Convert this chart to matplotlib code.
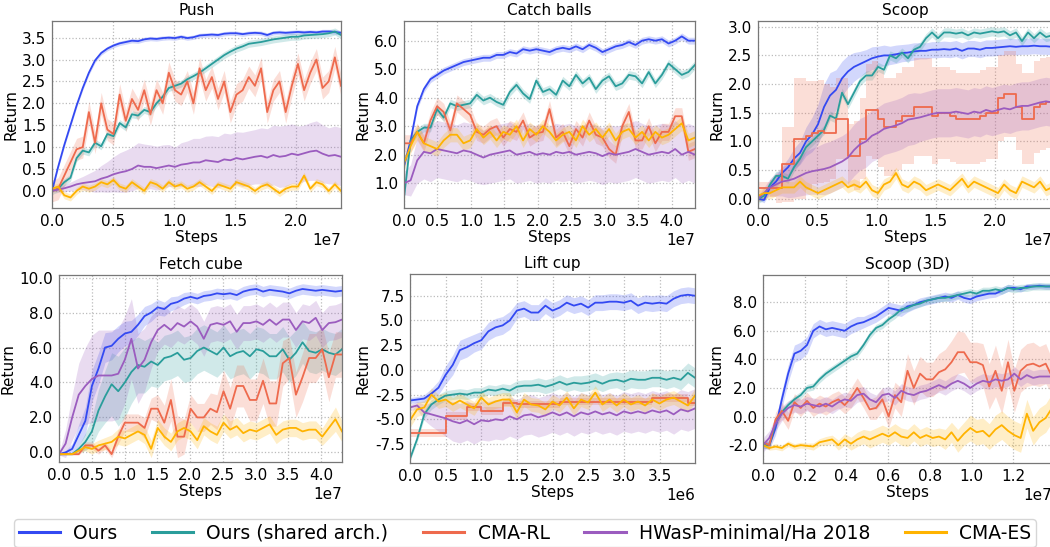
import numpy as np
import matplotlib
matplotlib.use("Agg")
import matplotlib.pyplot as plt
from matplotlib.ticker import MultipleLocator, FormatStrFormatter
from matplotlib.lines import Line2D

# ---------------- labels ----------------
method_names = ["Ours", "Ours (shared arch.)", "CMA-RL", "HWasP-minimal/Ha 2018", "CMA-ES"]
panel_titles = ["Push", "Catch balls", "Scoop", "Fetch cube", "Lift cup", "Scoop (3D)"]
x_label = "Steps"
y_label = "Return"

# ---------------- Push (steps up to 2.37e7) ----------------
push_xmax = 2.37e7
push_ours = [0.00,0.55,1.05,1.50,1.95,2.35,2.70,2.98,3.15,3.25,
             3.32,3.37,3.40,3.43,3.42,3.46,3.48,3.47,3.49,3.50,
             3.49,3.52,3.49,3.51,3.55,3.56,3.57,3.56,3.59,3.60,
             3.60,3.58,3.60,3.61,3.60,3.56,3.61,3.62,3.61,3.62,
             3.63,3.62,3.63,3.62,3.64,3.64,3.63,3.61]
push_ours_sd = 0.05
push_shared = [0.00,0.05,0.20,0.30,0.75,0.92,0.88,1.10,1.02,1.30,
               1.25,1.55,1.45,1.75,1.72,1.85,1.80,2.00,2.15,2.35,
               2.40,2.45,2.55,2.62,2.70,2.80,2.90,3.00,3.10,3.18,
               3.25,3.30,3.36,3.38,3.40,3.43,3.46,3.48,3.50,3.52,
               3.52,3.55,3.56,3.57,3.58,3.60,3.64,3.56]
push_shared_sd = 0.08
push_cmarl = [0.00,0.05,0.35,0.65,0.95,1.00,1.80,1.10,2.00,1.40,
              1.30,2.20,1.60,2.10,1.85,2.30,1.75,2.30,2.00,2.70,
              2.30,2.20,2.50,2.00,2.80,2.30,2.60,2.10,2.50,1.80,
              2.20,2.30,2.60,2.40,2.80,1.80,2.30,2.50,1.80,2.40,
              2.90,2.30,2.70,3.00,2.35,2.50,3.05,2.40]
push_cmarl_sd = 0.25
push_hwasp = [0.00,0.03,0.06,0.10,0.15,0.18,0.20,0.22,0.28,0.32,
              0.38,0.42,0.45,0.50,0.58,0.55,0.55,0.52,0.55,0.58,
              0.55,0.60,0.62,0.65,0.65,0.70,0.68,0.66,0.72,0.70,
              0.75,0.72,0.75,0.78,0.80,0.76,0.82,0.78,0.80,0.85,
              0.82,0.86,0.90,0.92,0.85,0.80,0.82,0.78]
push_hwasp_sd = [0.02,0.05,0.08,0.10,0.12,0.15,0.20,0.25,0.30,0.35,
                 0.40,0.45,0.48,0.50,0.52,0.52,0.50,0.50,0.50,0.48,
                 0.45,0.50,0.52,0.55,0.55,0.55,0.58,0.58,0.60,0.60,
                 0.60,0.62,0.62,0.62,0.64,0.66,0.68,0.70,0.70,0.68,
                 0.66,0.64,0.66,0.68,0.66,0.64,0.66,0.66]
push_cmaes = [0.05,0.10,-0.10,-0.15,0.00,0.10,0.05,0.10,0.20,0.15,
              0.25,0.10,0.05,0.20,0.10,0.00,0.20,0.15,0.05,0.20,
              0.10,0.15,0.05,0.10,0.20,0.10,0.00,0.15,0.10,0.05,
              0.20,0.15,0.10,0.00,0.10,0.15,0.05,-0.05,0.05,0.10,
              0.10,0.35,0.05,0.20,0.15,0.00,0.15,0.00]
push_cmaes_sd = 0.08

# ---------------- Catch balls (steps up to 4.35e7) ----------------
catch_xmax = 4.35e7
catch_ours = [1.60,2.50,3.70,4.30,4.65,4.80,4.95,5.05,5.15,5.25,
              5.30,5.35,5.40,5.40,5.50,5.50,5.60,5.55,5.70,5.65,
              5.70,5.65,5.60,5.70,5.75,5.70,5.80,5.70,5.85,5.75,
              5.60,5.70,5.80,5.85,5.95,5.85,6.00,6.05,6.00,6.05,
              5.90,6.00,6.15,6.00,6.00]
catch_ours_sd = 0.12
catch_shared = [0.50,2.50,2.80,2.95,2.95,3.60,3.30,3.80,3.70,3.75,
                3.80,4.10,3.90,4.00,3.85,3.75,4.20,4.45,4.15,3.95,
                4.60,4.20,4.30,4.10,4.60,4.40,4.80,4.50,4.70,4.30,
                4.60,4.75,4.40,4.50,4.80,4.75,4.50,4.90,4.50,4.80,
                5.20,5.00,4.80,4.90,5.15]
catch_shared_sd = 0.15
catch_cmarl = [2.40,2.40,2.80,2.40,3.20,3.70,3.50,2.85,3.80,3.60,
               3.40,2.80,2.70,2.90,3.00,2.60,2.90,2.80,3.20,2.60,
               2.75,2.80,3.60,2.60,2.80,2.30,2.90,2.60,3.20,2.70,
               2.60,2.20,2.00,3.00,3.50,2.50,2.50,3.00,2.40,2.80,
               2.80,3.35,3.35,2.10,2.20]
catch_cmarl_sd = 0.3
catch_hwasp = [1.00,1.10,1.80,2.10,2.05,2.20,2.15,2.10,2.05,2.15,
               2.10,2.00,1.90,2.00,2.05,2.10,2.15,2.00,2.05,2.10,
               2.00,2.05,2.00,2.10,2.05,2.10,2.00,2.05,2.10,2.05,
               1.95,2.05,2.00,2.05,2.10,2.20,2.10,2.00,2.05,2.10,
               2.05,2.20,2.00,2.10,2.00]
catch_hwasp_sd = [0.40,0.55,0.80,0.95,1.00,1.00,1.00,1.00,1.00,1.00,
                  1.00,1.00,0.95,1.00,1.00,1.00,1.00,1.00,1.00,1.00,
                  1.00,1.00,1.00,1.00,1.00,1.00,1.00,1.00,1.00,1.00,
                  1.00,1.00,1.00,1.00,1.00,1.00,1.00,1.00,1.00,1.00,
                  1.00,1.00,1.00,1.00,1.00]
catch_cmaes = [1.70,2.30,2.80,2.40,2.30,2.20,2.50,2.70,2.70,2.40,
               2.50,2.90,2.60,2.80,2.50,2.80,2.70,3.00,2.50,2.90,
               2.70,3.00,2.80,2.50,2.70,2.80,2.50,3.00,2.70,2.90,
               2.60,2.90,2.50,2.80,2.90,2.60,2.80,2.50,2.80,2.60,
               2.70,2.90,3.10,2.50,2.60]
catch_cmaes_sd = 0.25

# ---------------- Scoop (steps up to 2.48e7) ----------------
scoop_xmax = 2.48e7
scoop_ours = [0.00,-0.02,0.20,0.30,0.45,0.55,0.70,0.80,1.00,1.12,
              1.30,1.60,1.80,1.90,2.10,2.22,2.30,2.35,2.40,2.45,
              2.48,2.50,2.50,2.52,2.54,2.55,2.57,2.58,2.58,2.60,
              2.60,2.61,2.60,2.62,2.58,2.62,2.62,2.60,2.63,2.63,
              2.64,2.65,2.66,2.65,2.66,2.66,2.67,2.66,2.66,2.65]
scoop_ours_sd = [0.02,0.05,0.08,0.10,0.12,0.15,0.18,0.20,0.25,0.30,
                 0.35,0.40,0.40,0.35,0.30,0.28,0.25,0.22,0.20,0.20,
                 0.18,0.18,0.16,0.16,0.15,0.15,0.15,0.14,0.14,0.14,
                 0.14,0.14,0.14,0.14,0.14,0.14,0.14,0.14,0.14,0.14,
                 0.14,0.14,0.14,0.14,0.14,0.14,0.14,0.14,0.14,0.14]
scoop_shared = [0.00,0.05,0.25,0.40,0.40,0.35,0.55,0.70,0.90,1.00,
                1.10,1.20,1.45,1.40,1.85,1.65,1.85,2.05,2.15,2.15,
                2.30,2.25,2.50,2.45,2.55,2.45,2.60,2.65,2.80,2.90,
                2.80,2.90,2.90,2.88,2.90,2.85,2.90,2.88,2.90,2.92,
                2.90,2.92,2.85,2.90,2.75,2.90,2.80,2.90,2.82,2.85]
scoop_shared_sd = 0.08
scoop_cmarl = [0.18,0.18,0.18,0.18,0.60,0.60,1.05,1.05,1.10,1.15,
               1.18,1.15,1.15,1.40,1.40,0.75,0.75,1.05,1.55,1.55,
               1.40,1.25,1.25,1.35,1.45,1.45,1.60,1.60,1.60,1.45,
               1.50,1.50,1.45,1.40,1.40,1.40,1.40,1.45,1.50,1.50,
               1.75,1.82,1.82,1.60,1.40,1.40,1.60,1.65,1.68,1.68]
scoop_cmarl_sd = [0.12,0.12,0.15,0.25,0.65,0.65,1.05,1.05,0.95,0.90,
                  0.90,0.85,0.80,0.70,0.70,0.55,0.60,0.70,0.80,0.85,
                  0.85,0.85,0.85,0.85,0.85,0.85,0.85,0.85,0.85,0.85,
                  0.80,0.80,0.80,0.80,0.80,0.80,0.80,0.80,0.80,0.80,
                  0.75,0.75,0.75,0.75,0.80,0.80,0.80,0.80,0.80,0.80]
scoop_hwasp = [0.00,0.10,0.20,0.25,0.30,0.32,0.35,0.40,0.45,0.48,
               0.50,0.52,0.55,0.60,0.65,0.72,0.85,0.95,1.00,1.10,
               1.15,1.22,1.25,1.28,1.32,1.38,1.40,1.42,1.45,1.48,
               1.50,1.50,1.50,1.52,1.50,1.48,1.52,1.50,1.55,1.52,
               1.55,1.58,1.56,1.60,1.62,1.62,1.65,1.68,1.70,1.68]
scoop_hwasp_sd = [0.05,0.10,0.15,0.20,0.25,0.30,0.32,0.35,0.38,0.40,
                  0.42,0.45,0.45,0.45,0.45,0.45,0.45,0.45,0.45,0.45,
                  0.45,0.45,0.45,0.45,0.45,0.45,0.45,0.42,0.42,0.42,
                  0.42,0.42,0.42,0.42,0.42,0.42,0.42,0.42,0.42,0.42,
                  0.42,0.42,0.42,0.42,0.42,0.42,0.42,0.42,0.42,0.42]
scoop_cmaes = [0.05,0.10,0.10,0.15,0.20,0.20,0.20,0.30,0.20,0.15,
               0.10,0.15,0.20,0.25,0.30,0.20,0.25,0.20,0.30,0.15,
               0.10,0.25,0.30,0.45,0.25,0.20,0.30,0.25,0.15,0.20,
               0.25,0.20,0.15,0.25,0.35,0.20,0.30,0.25,0.20,0.15,
               0.10,0.25,0.15,0.10,0.30,0.25,0.20,0.30,0.15,0.20]
scoop_cmaes_sd = 0.1

# ---------------- Fetch cube (steps up to 4.32e7) ----------------
fetch_xmax = 4.32e7
fetch_ours = [-0.10,0.00,0.20,1.00,1.80,3.80,4.80,6.00,6.10,6.50,
              6.80,6.90,7.30,7.80,8.00,8.30,8.20,8.50,8.60,8.80,
              8.90,8.80,8.95,9.00,9.10,9.05,9.10,9.00,9.20,9.30,
              9.35,9.20,9.30,9.25,9.20,9.10,9.25,9.35,9.30,9.25,
              9.30,9.25,9.20,9.25]
fetch_ours_sd = [0.05,0.10,0.30,0.60,0.80,0.90,0.90,0.85,0.80,0.75,
                 0.70,0.65,0.60,0.55,0.50,0.45,0.40,0.40,0.35,0.35,
                 0.30,0.30,0.30,0.30,0.30,0.30,0.30,0.30,0.30,0.30,
                 0.30,0.30,0.30,0.30,0.30,0.30,0.30,0.30,0.30,0.30,
                 0.30,0.30,0.30,0.30]
fetch_shared = [-0.10,-0.10,-0.10,0.20,0.60,1.20,2.40,3.20,3.90,3.50,
                4.00,4.60,5.00,4.90,5.20,5.00,5.40,5.50,5.70,5.30,
                5.40,5.80,6.00,5.80,5.60,6.00,5.50,5.70,5.80,5.50,
                5.90,5.80,5.50,5.50,5.90,5.30,5.70,6.30,5.80,5.70,
                5.90,5.70,5.60,5.90]
fetch_shared_sd = [0.05,0.05,0.05,0.20,0.50,0.80,1.20,1.50,1.80,2.00,
                   2.00,1.80,1.60,1.50,1.40,1.30,1.30,1.30,1.30,1.30,
                   1.30,1.30,1.30,1.30,1.30,1.30,1.30,1.30,1.30,1.30,
                   1.30,1.30,1.30,1.30,1.30,1.30,1.30,1.20,1.20,1.20,
                   1.20,1.20,1.20,1.20]
fetch_cmarl = [-0.10,-0.10,-0.10,-0.10,0.40,0.40,0.10,0.40,-0.10,0.90,
               1.70,1.70,1.70,1.40,2.50,2.50,1.70,3.00,0.90,0.90,
               2.50,2.00,2.00,2.50,2.30,3.50,2.50,3.80,3.80,3.00,
               3.00,4.10,2.80,2.80,5.10,5.40,3.30,4.30,5.40,5.40,
               5.90,4.30,5.60,5.60]
fetch_cmarl_sd = [0.05,0.05,0.05,0.05,0.20,0.20,0.20,0.20,0.20,0.40,
                  0.50,0.50,0.50,0.60,0.60,0.80,1.00,1.20,1.20,1.00,
                  0.80,0.80,0.80,0.90,1.00,1.20,1.20,1.20,1.20,1.20,
                  1.20,1.30,1.30,1.30,1.30,1.20,1.30,1.40,1.40,1.40,
                  1.30,1.40,1.30,1.30]
fetch_hwasp = [-0.10,0.50,2.00,3.30,3.80,4.20,4.40,4.40,4.40,4.50,
               5.30,6.50,4.80,5.30,6.30,7.00,7.30,7.00,7.40,7.20,
               7.50,7.20,6.50,7.30,7.40,7.30,7.50,6.90,7.40,7.40,
               7.50,7.30,7.60,7.30,7.60,7.60,7.00,7.50,7.40,7.70,
               7.00,7.40,7.45,7.60]
fetch_hwasp_sd = [0.05,0.80,1.30,1.80,2.20,2.50,2.60,2.60,2.60,2.60,
                  2.50,2.30,2.00,1.80,1.50,1.20,1.10,1.00,1.00,1.00,
                  1.00,1.00,1.00,1.00,1.00,1.00,1.00,1.00,1.00,1.00,
                  1.00,1.00,1.00,1.00,1.00,1.00,1.00,1.00,1.00,1.00,
                  1.00,1.00,1.00,1.00]
fetch_cmaes = [-0.10,-0.10,-0.10,0.10,0.30,0.20,0.40,0.50,0.60,0.90,
               0.80,1.00,1.20,1.00,0.20,1.40,0.90,0.60,1.20,1.40,
               1.20,0.70,1.50,1.20,1.00,1.70,1.30,1.50,1.10,1.30,
               1.20,1.40,1.60,1.00,1.30,1.40,1.40,1.20,1.30,1.30,
               0.90,1.40,1.90,1.20]
fetch_cmaes_sd = [0.03,0.03,0.03,0.10,0.20,0.30,0.30,0.35,0.40,0.45,
                  0.45,0.45,0.45,0.50,0.50,0.50,0.50,0.50,0.50,0.50,
                  0.50,0.50,0.50,0.50,0.50,0.50,0.50,0.50,0.50,0.50,
                  0.50,0.50,0.50,0.50,0.50,0.50,0.50,0.50,0.50,0.50,
                  0.50,0.60,0.70,0.60]

# ---------------- Lift cup (steps up to 3.99e6) ----------------
lift_xmax = 3.99e6
lift_ours = [-3.10,-3.00,-2.90,-2.40,-1.80,-0.50,0.50,2.00,2.30,2.70,
             3.00,3.90,4.30,4.50,5.00,6.00,6.20,5.80,5.80,6.50,
             6.00,6.30,6.80,6.50,6.70,6.30,6.80,6.80,6.90,6.90,
             6.80,7.00,6.50,6.80,6.70,6.80,6.70,7.20,7.50,7.60,
             7.50]
lift_ours_sd = [0.30,0.30,0.40,0.50,0.70,0.90,1.00,1.00,1.00,0.90,
                0.90,0.90,0.90,0.90,0.90,0.80,0.80,0.80,0.80,0.80,
                0.80,0.80,0.80,0.80,0.80,0.80,0.80,0.80,0.80,0.80,
                0.80,0.80,0.80,0.80,0.80,0.80,0.80,0.80,0.80,0.80,
                0.80]
lift_shared = [-9.00,-7.00,-4.50,-3.50,-3.00,-2.60,-2.50,-2.40,-2.50,-2.30,
               -2.30,-2.00,-2.10,-1.90,-2.10,-1.70,-1.60,-1.60,-1.50,-1.70,
               -1.50,-1.20,-1.50,-1.30,-1.40,-1.30,-1.10,-1.40,-1.10,-1.00,
               -1.20,-0.90,-1.00,-1.00,-0.80,-0.80,-1.00,-0.80,-1.00,-0.30,
               -0.80]
lift_shared_sd = [0.20,0.30,0.40,0.50,0.50,0.50,0.50,0.50,0.50,0.50,
                  0.50,0.50,0.50,0.50,0.60,0.60,0.60,0.60,0.70,0.70,
                  0.70,0.70,0.70,0.70,0.80,0.80,0.80,0.80,0.80,0.80,
                  0.90,0.90,0.90,0.90,0.90,0.90,0.90,0.90,1.00,1.00,
                  1.00]
lift_cmarl = [-6.40,-6.40,-6.40,-6.40,-6.40,-4.70,-4.70,-4.70,-3.80,-3.80,
              -4.20,-4.20,-4.20,-3.30,-3.40,-3.50,-3.50,-3.50,-3.50,-3.50,
              -3.50,-3.20,-3.20,-3.20,-3.20,-3.20,-3.20,-3.20,-3.20,-3.20,
              -3.20,-3.20,-3.20,-3.20,-2.80,-2.80,-2.80,-2.80,-2.80,-3.30,
              -3.30]
lift_cmarl_sd = 0.4
lift_hwasp = [-3.80,-3.60,-4.30,-4.50,-4.70,-4.90,-5.20,-5.40,-5.10,-5.50,
              -5.10,-5.20,-5.00,-5.10,-4.70,-5.00,-4.60,-4.50,-4.80,-4.60,
              -4.30,-4.60,-4.30,-4.70,-4.30,-4.50,-4.20,-4.50,-4.30,-4.60,
              -4.20,-4.40,-4.20,-4.40,-4.10,-4.30,-4.10,-4.50,-4.00,-4.20,
              -3.90]
lift_hwasp_sd = [0.30,0.40,0.80,1.20,1.50,1.80,2.00,2.00,2.00,2.00,
                 2.00,2.00,2.00,2.00,2.00,2.00,2.00,2.00,2.00,2.00,
                 2.00,2.00,2.00,2.00,2.00,2.00,2.00,2.00,2.00,2.00,
                 2.00,2.00,2.00,2.00,2.00,2.00,2.00,2.00,2.00,2.00,
                 2.00]
lift_cmaes = [-5.10,-4.00,-3.80,-2.50,-3.20,-3.00,-3.50,-3.10,-3.50,-3.90,
              -2.80,-3.50,-3.20,-3.00,-3.00,-4.30,-3.00,-3.50,-3.60,-4.00,
              -3.20,-3.60,-2.80,-3.90,-3.00,-3.30,-2.30,-3.50,-3.00,-3.60,
              -3.00,-3.50,-3.20,-3.60,-3.00,-3.40,-3.00,-2.80,-3.20,-3.60,
              -2.60]
lift_cmaes_sd = 0.7

# ---------------- Scoop (3D) (steps up to 1.385e7) ----------------
scoop3d_xmax = 1.385e7
scoop3d_ours = [-2.00,-2.00,-0.80,1.20,3.00,4.40,4.60,5.00,6.00,6.30,
                6.10,6.20,6.10,6.00,6.30,6.50,6.60,6.80,7.00,7.30,
                7.60,7.50,7.40,7.70,7.80,8.00,8.10,8.20,8.30,8.40,
                8.30,8.50,8.30,8.20,8.40,8.50,8.60,8.60,8.80,9.00,
                9.00,8.90,9.10,9.10,9.15,9.10,9.10]
scoop3d_ours_sd = [0.20,0.30,0.50,0.60,0.60,0.60,0.60,0.60,0.50,0.50,
                   0.50,0.50,0.50,0.50,0.50,0.50,0.40,0.40,0.40,0.40,
                   0.40,0.40,0.40,0.40,0.30,0.30,0.30,0.30,0.30,0.30,
                   0.30,0.30,0.30,0.30,0.30,0.30,0.30,0.25,0.25,0.25,
                   0.20,0.20,0.20,0.20,0.20,0.20,0.20]
scoop3d_shared = [-2.00,-2.00,-0.50,0.30,0.80,1.20,1.50,2.00,2.10,2.60,
                  3.00,3.30,3.60,3.90,4.20,4.40,5.00,5.70,6.20,6.40,
                  6.80,7.10,7.50,7.60,7.80,7.90,8.10,8.20,8.30,8.30,
                  8.40,8.50,8.60,8.70,8.60,8.80,8.80,8.90,8.80,9.00,
                  8.90,9.00,9.00,9.10,9.10,9.10,9.10]
scoop3d_shared_sd = 0.25
scoop3d_cmarl = [-1.80,-2.00,-0.20,0.40,-0.30,1.00,0.60,1.10,0.60,0.90,
                 0.70,1.00,1.20,0.80,1.30,2.00,1.30,0.50,0.60,1.20,
                 0.00,1.50,1.00,3.20,2.00,3.00,2.60,2.60,3.10,3.30,
                 3.80,4.50,4.50,3.80,3.80,3.60,2.10,3.20,1.80,3.80,
                 1.80,3.20,3.60,3.70,3.50,3.70,2.80]
scoop3d_cmarl_sd = [0.20,0.30,0.50,0.60,0.60,0.60,0.60,0.60,0.60,0.60,
                    0.60,0.60,0.60,0.60,0.70,0.70,0.70,0.70,0.80,0.80,
                    0.80,0.90,1.00,1.20,1.20,1.20,1.20,1.20,1.30,1.40,
                    1.50,1.50,1.40,1.40,1.40,1.50,1.60,1.80,1.60,1.60,
                    1.50,1.50,1.50,1.50,1.40,1.40,1.20]
scoop3d_hwasp = [-2.00,-1.50,-0.50,0.20,0.60,0.80,0.70,0.90,0.80,0.70,
                 0.90,0.70,1.00,1.20,1.10,1.50,1.60,1.20,1.00,1.50,
                 1.60,1.30,1.80,1.60,1.50,1.70,1.80,2.00,2.20,2.00,
                 2.30,2.50,2.30,2.00,2.30,2.50,2.40,2.60,2.50,2.60,
                 3.00,2.60,2.90,2.70,2.80,2.80,2.80]
scoop3d_hwasp_sd = 0.5
scoop3d_cmaes = [-2.00,-2.20,-2.10,-2.20,-1.90,-2.10,-2.00,-2.05,-2.10,-1.80,
                 -1.70,-1.60,-2.00,-1.60,-1.90,-1.60,-1.40,-1.60,-1.40,-1.20,
                 -1.40,-1.10,-1.40,-1.50,-1.10,-1.50,-1.30,-1.50,-1.40,-1.60,
                 -1.10,-1.70,-1.20,-0.80,-1.10,-1.00,-1.40,-0.90,-0.60,-1.00,
                 -1.30,-1.50,0.20,-1.00,-0.40,-0.10,0.60]
scoop3d_cmaes_sd = [0.10,0.15,0.20,0.20,0.20,0.20,0.20,0.20,0.25,0.25,
                    0.30,0.30,0.35,0.40,0.45,0.50,0.50,0.60,0.60,0.60,
                    0.60,0.60,0.60,0.60,0.60,0.60,0.60,0.60,0.60,0.70,
                    0.70,0.80,0.80,0.90,0.90,0.90,0.90,1.00,1.00,1.00,
                    1.00,1.00,1.00,1.00,1.00,1.00,1.00]

# ---------------- styling ----------------
colors = ["#3349f2", "#2a9d9b", "#ee6a4d", "#9b5cbf", "#ffb300"]

plt.rcParams['font.family'] = ['DejaVu Sans']
plt.rcParams['axes.unicode_minus'] = False

fig = plt.figure(figsize=(10.5, 5.47), dpi=100)
W, H = 1050.0, 547.0


def rect(l, r, t, b):
    return [l / W, 1 - b / H, (r - l) / W, (b - t) / H]


panels = [
    (rect(52, 341, 21, 208), panel_titles[0], push_xmax, 0.5e7, (-0.39, 3.88), 0.5,
     [(push_ours, push_ours_sd), (push_shared, push_shared_sd), (push_cmarl, push_cmarl_sd),
      (push_hwasp, push_hwasp_sd), (push_cmaes, push_cmaes_sd)], False),
    (rect(404, 695, 21, 208), panel_titles[1], catch_xmax, 0.5e7, (0.13, 6.69), 1.0,
     [(catch_ours, catch_ours_sd), (catch_shared, catch_shared_sd), (catch_cmarl, catch_cmarl_sd),
      (catch_hwasp, catch_hwasp_sd), (catch_cmaes, catch_cmaes_sd)], False),
    (rect(758, 1052, 21, 208), panel_titles[2], scoop_xmax, 0.5e7, (-0.16, 3.1), 0.5,
     [(scoop_ours, scoop_ours_sd), (scoop_shared, scoop_shared_sd), (scoop_cmarl, scoop_cmarl_sd),
      (scoop_hwasp, scoop_hwasp_sd), (scoop_cmaes, scoop_cmaes_sd)], True),
    (rect(59, 342, 275, 462), panel_titles[3], fetch_xmax, 0.5e7, (-0.55, 10.15), 2.0,
     [(fetch_ours, fetch_ours_sd), (fetch_shared, fetch_shared_sd), (fetch_cmarl, fetch_cmarl_sd),
      (fetch_hwasp, fetch_hwasp_sd), (fetch_cmaes, fetch_cmaes_sd)], False),
    (rect(410, 695, 274, 463), panel_titles[4], lift_xmax, 0.5e6, (-9.42, 9.7), 2.5,
     [(lift_ours, lift_ours_sd), (lift_shared, lift_shared_sd), (lift_cmarl, lift_cmarl_sd),
      (lift_hwasp, lift_hwasp_sd), (lift_cmaes, lift_cmaes_sd)], True),
    (rect(763, 1052, 275, 463), panel_titles[5], scoop3d_xmax, 0.2e7, (-3.25, 9.9), 2.0,
     [(scoop3d_ours, scoop3d_ours_sd), (scoop3d_shared, scoop3d_shared_sd), (scoop3d_cmarl, scoop3d_cmarl_sd),
      (scoop3d_hwasp, scoop3d_hwasp_sd), (scoop3d_cmaes, scoop3d_cmaes_sd)], False),
]

for r, title, xmax, xstep, ylim, ystep, series, rl_steps in panels:
    ax = fig.add_axes(r)
    for k, (y, sd) in enumerate(series):
        y = np.asarray(y, dtype=float)
        sd = np.asarray(sd, dtype=float)
        x = np.linspace(0, xmax, len(y))
        stepped = rl_steps and k == 2
        ax.fill_between(x, y - sd, y + sd, color=colors[k], alpha=0.22, linewidth=0,
                        step='post' if stepped else None)
        ax.plot(x, y, color=colors[k], linewidth=1.3,
                drawstyle='steps-post' if stepped else 'default')
    ax.set_xlim(0, xmax)
    ax.set_ylim(*ylim)
    ax.xaxis.set_major_locator(MultipleLocator(xstep))
    ax.yaxis.set_major_locator(MultipleLocator(ystep))
    ax.yaxis.set_major_formatter(FormatStrFormatter('%.1f'))
    ax.grid(True, linestyle=':', color='#bbbbbb', linewidth=0.9)
    ax.set_axisbelow(True)
    ax.tick_params(length=0, labelsize=11, pad=4)
    ax.xaxis.get_offset_text().set_fontsize(11)
    ax.set_title(title, fontsize=11, pad=4)
    ax.set_xlabel(x_label, fontsize=11, labelpad=1)
    ax.set_ylabel(y_label, fontsize=11, labelpad=3)
    for s in ax.spines.values():
        s.set_color('#777777')
        s.set_linewidth(0.9)

handles = [Line2D([0], [0], color=c, linewidth=2.2) for c in colors]
fig.legend(handles, method_names, loc='upper center', bbox_to_anchor=(0.5, 1 - 519 / H),
           borderaxespad=0.0, ncol=5, fontsize=13.5, frameon=True, fancybox=True,
           edgecolor='#cccccc', handlelength=2.2, handletextpad=0.7, columnspacing=1.85,
           borderpad=0.25)

fig.savefig("out.png", dpi=100)
